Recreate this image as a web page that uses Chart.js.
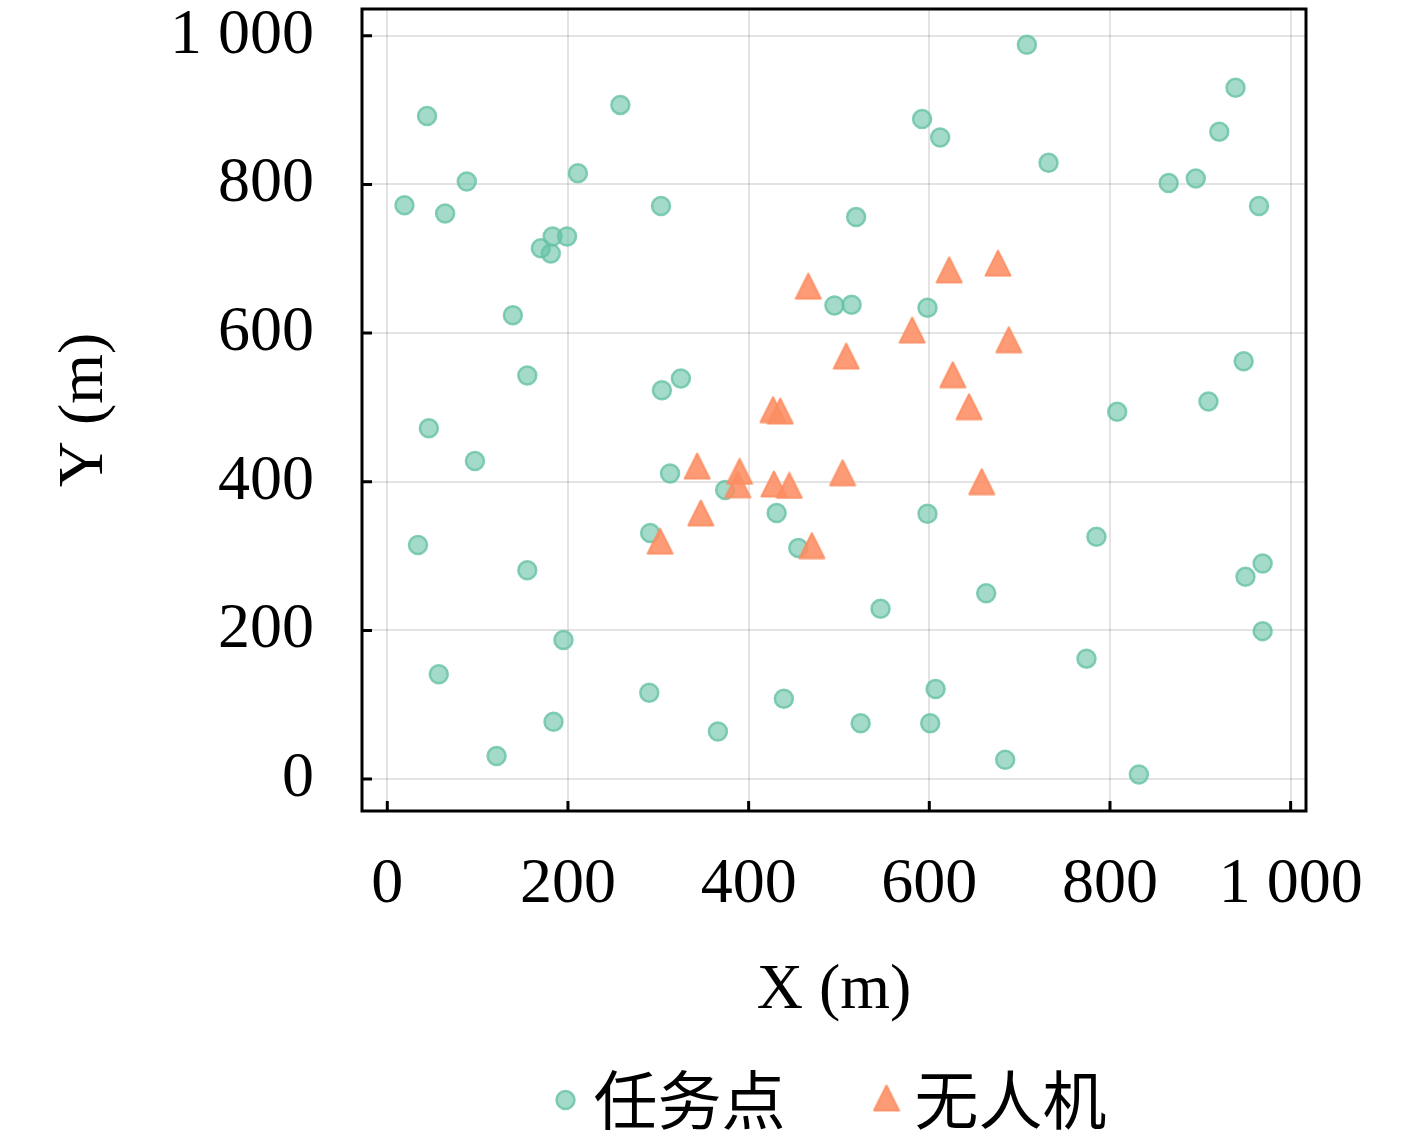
<!DOCTYPE html>
<html>
<head>
<meta charset="utf-8">
<script src="https://cdn.jsdelivr.net/npm/chart.js@4.4.1/dist/chart.umd.min.js"></script>
<style>
  html, body { margin: 0; padding: 0; background: #fff; }
  canvas { display: block; }
</style>
</head>
<body>
<canvas id="myChart" width="1417" height="1133"></canvas>
<script>
// task points (任务点)
var taskX = [708, 44, 258, 939, 921, 592, 612, 732, 88, 19, 64, 211, 303, 519, 865, 895, 965,
             170, 183, 199, 181, 139, 495, 514, 598, 155, 304, 325, 948, 808, 909, 46, 97,
             313, 374, 431, 598, 291, 455, 785, 34, 155, 950, 969, 546, 663, 195, 969, 57,
             774, 290, 607, 439, 184, 524, 601, 366, 121, 684, 832];
var taskY = [988, 892, 907, 930, 871, 888, 863, 829, 804, 772, 761, 815, 771, 756, 802, 808, 771,
             714, 730, 730, 707, 624, 637, 638, 634, 543, 523, 539, 562, 494, 508, 472, 428,
             411, 389, 358, 357, 331, 311, 326, 315, 281, 272, 290, 229, 250, 187, 199, 141,
             162, 116, 121, 108, 77, 75, 75, 64, 31, 26, 6];

// UAV positions (无人机)
var uavX = [466, 622, 676, 581, 508, 688, 626, 644, 427, 435, 343, 390, 388, 428, 445, 504, 658, 347, 302, 470];
var uavY = [663, 685, 694, 604, 569, 591, 544, 501, 497, 495, 421, 414, 396, 397, 395, 412, 400, 358, 320, 314];

var tickValues = [0, 200, 400, 600, 800, 1000];
var tickLabels = ['0', '200', '400', '600', '800', '1 000'];
var seriesNames = ['任务点', '无人机'];

var taskFill = 'rgba(102,194,165,0.6)';
var taskEdge = 'rgba(102,194,165,0.8)';
var uavFill = 'rgba(252,141,98,0.88)';

function toPoints(xs, ys) {
    var pts = [];
    for (var i = 0; i < xs.length; i++) {
        pts.push({x: xs[i], y: ys[i]});
    }
    return pts;
}

// matplotlib style '^' marker: as wide as it is tall, centred on its box
function makeTriangle(size) {
    var c = document.createElement('canvas');
    c.width = size + 3;
    c.height = size + 3;
    var g = c.getContext('2d');
    var m = 1.5;
    g.beginPath();
    g.moveTo(c.width / 2, m);
    g.lineTo(c.width - m, c.height - m);
    g.lineTo(m, c.height - m);
    g.closePath();
    g.fillStyle = uavFill;
    g.fill();
    g.lineWidth = 2;
    g.lineJoin = 'round';
    g.strokeStyle = uavFill;
    g.stroke();
    return c;
}
var triangleImg = makeTriangle(25);

function tickText(v) {
    var i = tickValues.indexOf(v);
    return i >= 0 ? tickLabels[i] : '';
}

var serifFont = {family: 'Liberation Serif', size: 64};

// box, inward ticks and legend
var framePlugin = {
    id: 'frame',
    afterDatasetsDraw: function (chart) {
        var ctx = chart.ctx;
        var a = chart.chartArea;
        var xs = chart.scales.x;
        var ys = chart.scales.y;
        ctx.save();
        ctx.strokeStyle = '#000';
        ctx.lineWidth = 3;
        ctx.strokeRect(a.left, a.top, a.right - a.left, a.bottom - a.top);
        ctx.beginPath();
        tickValues.forEach(function (v) {
            var px = xs.getPixelForValue(v);
            ctx.moveTo(px, a.bottom);
            ctx.lineTo(px, a.bottom - 10);
            var py = ys.getPixelForValue(v);
            ctx.moveTo(a.left, py);
            ctx.lineTo(a.left + 10, py);
        });
        ctx.stroke();
        ctx.restore();
    },
    afterDraw: function (chart) {
        var ctx = chart.ctx;
        var a = chart.chartArea;
        ctx.save();
        ctx.font = '64px "Noto Sans CJK SC"';
        ctx.textBaseline = 'middle';
        ctx.textAlign = 'left';
        var w0 = ctx.measureText(seriesNames[0]).width;
        var w1 = ctx.measureText(seriesNames[1]).width;
        var span = 28 + w0 + 101 + 28 + w1;
        var x = (a.left + a.right) / 2 - span / 2 + 2;
        var y = chart.height - 33;

        ctx.beginPath();
        ctx.arc(x, y, 9, 0, Math.PI * 2);
        ctx.fillStyle = taskFill;
        ctx.fill();
        ctx.lineWidth = 2.5;
        ctx.strokeStyle = taskEdge;
        ctx.stroke();
        ctx.fillStyle = '#000';
        ctx.fillText(seriesNames[0], x + 28, y);

        var x2 = x + 28 + w0 + 101;
        ctx.drawImage(triangleImg, x2 - triangleImg.width / 2, y - triangleImg.height / 2 - 2);
        ctx.fillStyle = '#000';
        ctx.fillText(seriesNames[1], x2 + 28, y);
        ctx.restore();
    }
};

var ctx1 = document.getElementById('myChart').getContext('2d');

var chartConfig = {
    type: 'scatter',
    data: {
        datasets: [{
            label: seriesNames[0],
            data: toPoints(taskX, taskY),
            pointStyle: 'circle',
            pointRadius: 9,
            pointBorderWidth: 2.5,
            backgroundColor: taskFill,
            borderColor: taskEdge,
            order: 2
        }, {
            label: seriesNames[1],
            data: toPoints(uavX, uavY),
            pointStyle: triangleImg,
            pointRadius: 14,
            backgroundColor: uavFill,
            borderColor: uavFill,
            order: 1
        }]
    },
    options: {
        responsive: false,
        animation: false,
        devicePixelRatio: 1,
        layout: {
            autoPadding: false,
            padding: {left: 0, right: 111, top: 9, bottom: 90}
        },
        plugins: {
            legend: {display: false},
            tooltip: {enabled: false}
        },
        scales: {
            x: {
                type: 'linear',
                min: -28,
                max: 1017,
                afterBuildTicks: function (scale) {
                    scale.ticks = tickValues.map(function (v) { return {value: v}; });
                },
                afterFit: function (scale) {
                    scale.height = 232;
                    scale.paddingLeft = 0;
                    scale.paddingRight = 0;
                },
                grid: {color: 'rgba(0,0,0,0.11)', lineWidth: 2, drawTicks: false},
                border: {display: false},
                ticks: {
                    padding: 36,
                    color: '#000',
                    font: serifFont,
                    maxRotation: 0,
                    autoSkip: false,
                    callback: tickText
                },
                title: {
                    display: true,
                    text: 'X (m)',
                    color: '#000',
                    font: serifFont,
                    padding: {top: 0, bottom: 13}
                }
            },
            y: {
                type: 'linear',
                min: -43,
                max: 1036,
                afterBuildTicks: function (scale) {
                    scale.ticks = tickValues.map(function (v) { return {value: v}; });
                },
                afterFit: function (scale) {
                    scale.width = 362;
                    scale.paddingTop = 0;
                    scale.paddingBottom = 0;
                },
                grid: {color: 'rgba(0,0,0,0.11)', lineWidth: 2, drawTicks: false},
                border: {display: false},
                ticks: {
                    padding: 48,
                    color: '#000',
                    font: serifFont,
                    autoSkip: false,
                    callback: tickText
                },
                title: {
                    display: true,
                    text: 'Y (m)',
                    color: '#000',
                    font: serifFont,
                    padding: {top: 47, bottom: 0}
                }
            }
        }
    },
    plugins: [framePlugin]
};

var myChart1 = new Chart(ctx1, chartConfig);
</script>
</body>
</html>
